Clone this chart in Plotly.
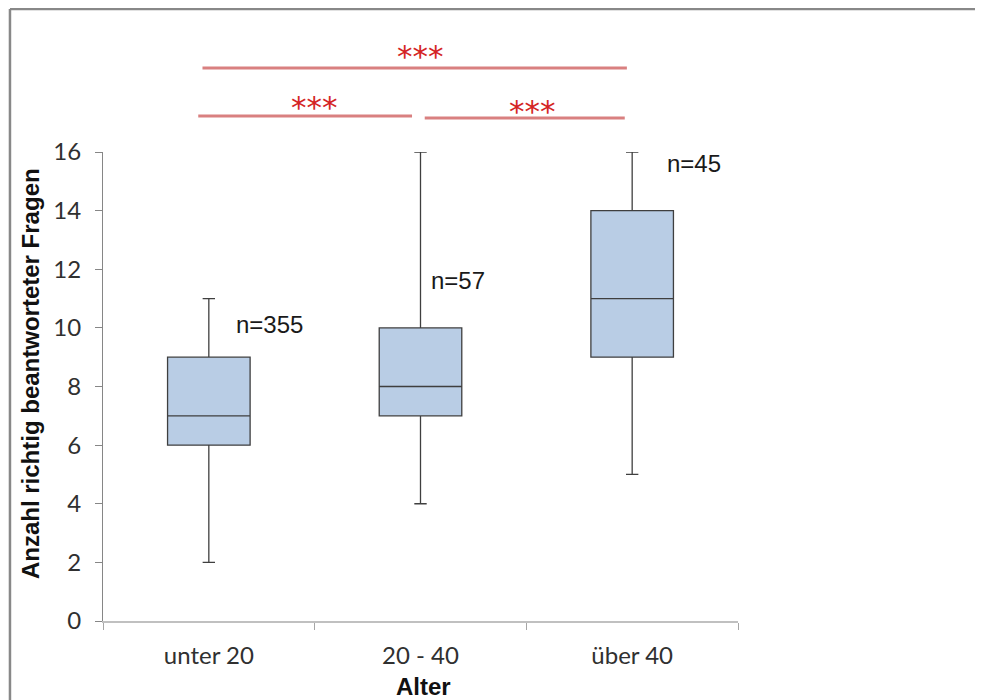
import plotly.graph_objects as go

# ---- data ----
categories = ["unter 20", "20 - 40", "über 40"]
lower_whisker = [2, 4, 5]
q1_values = [6, 7, 9]
median_values = [7, 8, 11]
q3_values = [9, 10, 14]
upper_whisker = [11, 16, 16]
n_counts = [355, 57, 45]
n_label_y = [10.1, 11.6, 15.6]
y_ticks = [0, 2, 4, 6, 8, 10, 12, 14, 16]

# significance brackets: (x start, x end, paper y, text x, text paper y)
sig_brackets = [
    (-0.03, 1.975, 1.179, 1.0, 1.205),
    (-0.05, 0.96, 1.077, 0.5, 1.095),
    (1.02, 1.965, 1.0725, 1.527, 1.087),
]
sig_label = "***"

fig = go.Figure()
fig.add_trace(go.Box(
    x=categories,
    q1=q1_values,
    median=median_values,
    q3=q3_values,
    lowerfence=lower_whisker,
    upperfence=upper_whisker,
    boxpoints=False,
    width=0.39,
    whiskerwidth=0.15,
    fillcolor="#b9cde5",
    line=dict(color="#3f3f3f", width=1.3),
    showlegend=False,
    hoverinfo="skip",
))

tick_font = dict(family="Lato, Liberation Sans, sans-serif", size=24, color="#303030")

fig.update_layout(
    width=975, height=692,
    margin=dict(l=95, r=245, t=144, b=79),
    paper_bgcolor="white", plot_bgcolor="white",
    xaxis=dict(
        type="category",
        categoryorder="array", categoryarray=categories,
        range=[-0.5, 2.5],
        showline=True, linecolor="#c0c0c0", linewidth=2,
        ticks="outside", tickson="boundaries", ticklen=7, tickcolor="#a6a6a6",
        tickfont=tick_font, showgrid=False, zeroline=False,
        ticklabelstandoff=12,
    ),
    yaxis=dict(
        range=[0, 16], tickvals=y_ticks,
        showline=True, linecolor="#868686", linewidth=1,
        ticks="outside", ticklen=7, tickcolor="#868686",
        tickfont=tick_font, showgrid=False, zeroline=False,
        ticklabelstandoff=9,
    ),
)

# axis titles
fig.add_annotation(text="<b>Alter</b>", xref="paper", yref="paper",
                   x=0.5055, y=-0.1386, xanchor="center", yanchor="middle", showarrow=False,
                   font=dict(family="Liberation Sans, Arial", size=24, color="#111111"))
fig.add_annotation(text="<b>Anzahl richtig beantworteter Fragen</b>", xref="paper", yref="paper",
                   x=-0.113, y=0.527, xanchor="center", yanchor="middle",
                   textangle=-90, showarrow=False,
                   font=dict(family="Liberation Sans, Arial", size=24, color="#111111"))

# n labels
for i, (cat, n, ny) in enumerate(zip(categories, n_counts, n_label_y)):
    fig.add_annotation(text=f"n={n}", x=i + [0.12, 0.04, 0.156][i], y=ny,
                       xref="x", yref="y", xanchor="left", yanchor="middle",
                       showarrow=False,
                       font=dict(family="Liberation Sans, Arial", size=24, color="#1a1a1a"))

# significance brackets
for x0, x1, yl, tx, ty in sig_brackets:
    fig.add_shape(type="line", xref="x", yref="paper", x0=x0, x1=x1, y0=yl, y1=yl,
                  line=dict(color="#d98080", width=3))
    fig.add_annotation(text=sig_label, xref="x", yref="paper", x=tx, y=ty,
                       showarrow=False, xanchor="center", yanchor="middle",
                       font=dict(family="DejaVu Sans", size=31, color="#d42424"))

# chart frame (only top and left edges are visible in the reference)
frame = dict(color="#888888", width=2.5)
fig.add_shape(type="line", xref="paper", yref="paper",
              x0=-0.1465, x1=2.0, y0=1.305, y1=1.305, line=frame, layer="below")
fig.add_shape(type="line", xref="paper", yref="paper",
              x0=-0.1465, x1=-0.1465, y0=-1.0, y1=1.305, line=frame, layer="below")

fig.write_html("out.html", post_script="document.body.style.overflow='hidden';")
